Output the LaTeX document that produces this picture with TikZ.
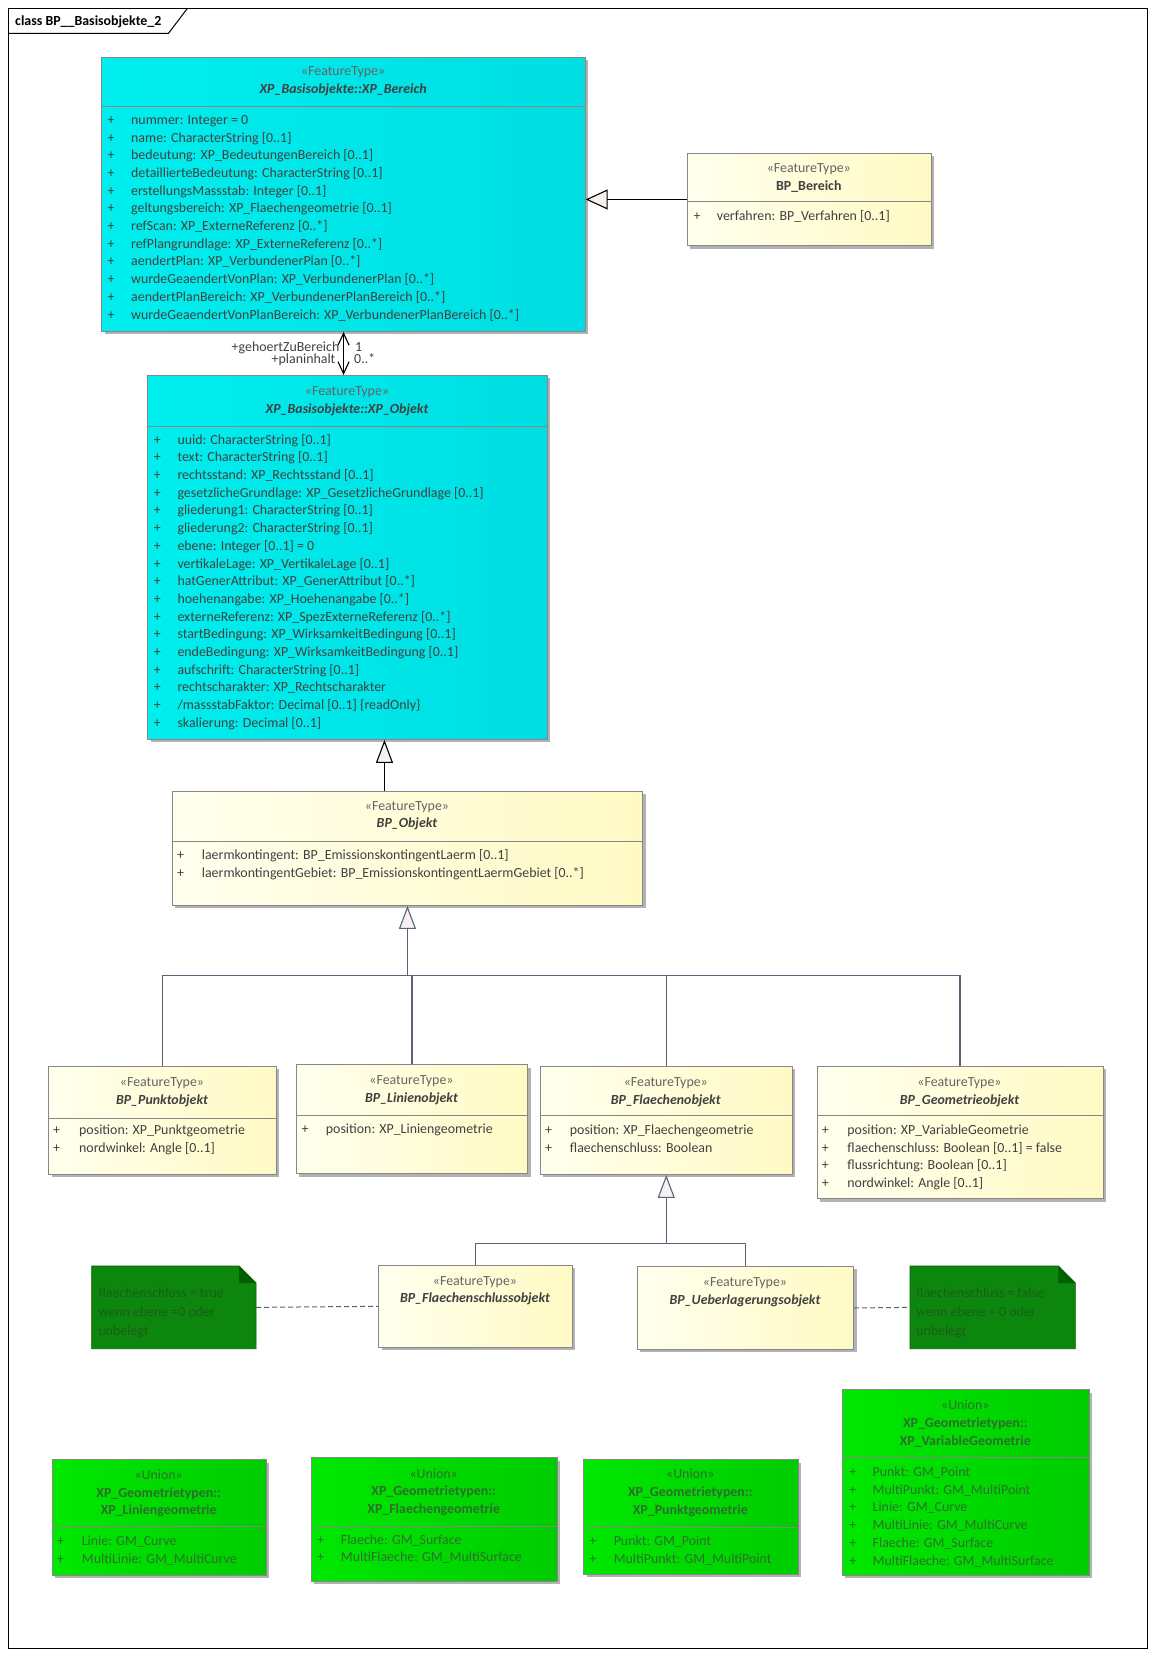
\documentclass[tikz,border=0pt]{standalone}
\usepackage{fontspec}
\setmainfont{Carlito}
\usetikzlibrary{arrows.meta,shadows,positioning,calc}

\definecolor{cyanL}{RGB}{0,238,238}
\definecolor{cyanR}{RGB}{0,222,226}
\definecolor{yelL}{RGB}{255,255,238}
\definecolor{yelR}{RGB}{255,250,196}
\definecolor{grnL}{RGB}{0,232,0}
\definecolor{grnR}{RGB}{0,204,0}
\definecolor{notegrn}{RGB}{12,134,12}
\definecolor{notefold}{RGB}{0,96,0}
\definecolor{notetxt}{RGB}{25,95,25}
\definecolor{boxline}{RGB}{135,135,135}
\definecolor{txtdark}{RGB}{64,64,64}
\definecolor{txtlight}{RGB}{100,100,100}
\definecolor{uniontxt}{RGB}{45,110,45}
\definecolor{genblue}{RGB}{88,98,120}
\definecolor{tipfill}{RGB}{248,240,238}

\begin{document}
\begin{tikzpicture}[x=1pt,y=-1pt,
font=\fontsize{13.9}{17.7}\selectfont,
classbox/.style={draw=boxline,line width=0.9pt,anchor=north west,inner sep=0pt,
  drop shadow={shadow xshift=3pt,shadow yshift=-3pt,opacity=0.3,fill=black}},
cyanbox/.style={classbox,left color=cyanL,right color=cyanR},
yelbox/.style={classbox,left color=yelL,right color=yelR},
unionbox/.style={classbox,left color=grnL,right color=grnR},
notebox/.style={anchor=north west,inner sep=0pt},
sepline/.style={draw=boxline,line width=0.9pt},
head/.style={align=center,inner sep=0pt,text=txtdark},
attr/.style={align=left,inner sep=0pt,anchor=base west,text=txtdark},
plus/.style={align=center,inner sep=0pt,anchor=base,text=txtdark},
utxt/.style={text=uniontxt},
notetext/.style={align=left,inner sep=0pt,anchor=base west,text=notetxt,
  font=\fontsize{13.9}{18.7}\selectfont},
role/.style={inner sep=0pt,text=txtdark},
assoc/.style={draw=black,line width=1.1pt,
  {Straight Barb[length=12pt,width=11pt]}-{Straight Barb[length=12pt,width=11pt]}},
genbig/.style={draw=black,line width=1.1pt,-{Triangle[length=22pt,width=20pt,fill=tipfill]}},
gensmall/.style={draw=black,line width=1.1pt,-{Triangle[length=23pt,width=17pt,fill=tipfill]}},
genline/.style={draw=genblue,line width=1.1pt},
gentip/.style={genline,-{Triangle[length=23pt,width=17pt,fill=tipfill]}},
notelink/.style={draw=genblue,line width=1pt,dash pattern=on 5pt off 3pt}]

\useasboundingbox (0,0) rectangle (1154,1655);

% frame
\node[draw,line width=1pt,anchor=north west,inner sep=0pt,
  minimum width=1138.2pt,minimum height=1639.6pt] (frame) at (8.4,8.4) {};
\draw[line width=1pt] ([yshift=-25pt]frame.north west) -- ++(160,0) -- ([xshift=179pt]frame.north west);
\node[anchor=base west,inner sep=0pt,font=\fontsize{13.9}{17.7}\selectfont\bfseries] (title) at (15,25.5) {class BP\_\_Basisobjekte\_2};

% XP_Bereich  (attribute nodes sit on the baseline of their last line)
\node[cyanbox,minimum width=483.4pt,minimum height=274pt] (bereich) at (101.4,57) {};
\draw[sepline] (bereich.west |- 0,106.7) -- (bereich.east |- 0,106.7);
\node[head] (bereich-h) at (343.1,81.4) {{\color{txtlight}«FeatureType»}\\{\bfseries\itshape XP\_Basisobjekte::XP\_Bereich}};
\node[plus] (bereich-p) at (111,319) {+\\+\\+\\+\\+\\+\\+\\+\\+\\+\\+\\+};
\node[attr] (bereich-a) at (131,319) {nummer: Integer = 0\\
name: CharacterString [0..1]\\
bedeutung: XP\_BedeutungenBereich [0..1]\\
detaillierteBedeutung: CharacterString [0..1]\\
erstellungsMassstab: Integer [0..1]\\
geltungsbereich: XP\_Flaechengeometrie [0..1]\\
refScan: XP\_ExterneReferenz [0..*]\\
refPlangrundlage: XP\_ExterneReferenz [0..*]\\
aendertPlan: XP\_VerbundenerPlan [0..*]\\
wurdeGeaendertVonPlan: XP\_VerbundenerPlan [0..*]\\
aendertPlanBereich: XP\_VerbundenerPlanBereich [0..*]\\
wurdeGeaendertVonPlanBereich: XP\_VerbundenerPlanBereich [0..*]};

% BP_Bereich
\node[yelbox,minimum width=244.3pt,minimum height=92.6pt] (bpbereich) at (686.7,152.7) {};
\draw[sepline] (bpbereich.west |- 0,201.7) -- (bpbereich.east |- 0,201.7);
\node[head] (bpbereich-h) at (808.8,178.2) {{\color{txtlight}«FeatureType»}\\{\bfseries BP\_Bereich}};
\node[plus] (bpbereich-p) at (697,220) {+};
\node[attr] (bpbereich-a) at (716.7,220) {verfahren: BP\_Verfahren [0..1]};

% XP_Objekt
\node[cyanbox,minimum width=399.4pt,minimum height=364pt] (objekt) at (147.3,375) {};
\draw[sepline] (objekt.west |- 0,426) -- (objekt.east |- 0,426);
\node[head] (objekt-h) at (347,401) {{\color{txtlight}«FeatureType»}\\{\bfseries\itshape XP\_Basisobjekte::XP\_Objekt}};
\node[plus] (objekt-p) at (157.3,727.3) {+\\+\\+\\+\\+\\+\\+\\+\\+\\+\\+\\+\\+\\+\\+\\+\\+};
\node[attr] (objekt-a) at (177.3,727.3) {uuid: CharacterString [0..1]\\
text: CharacterString [0..1]\\
rechtsstand: XP\_Rechtsstand [0..1]\\
gesetzlicheGrundlage: XP\_GesetzlicheGrundlage [0..1]\\
gliederung1: CharacterString [0..1]\\
gliederung2: CharacterString [0..1]\\
ebene: Integer [0..1] = 0\\
vertikaleLage: XP\_VertikaleLage [0..1]\\
hatGenerAttribut: XP\_GenerAttribut [0..*]\\
hoehenangabe: XP\_Hoehenangabe [0..*]\\
externeReferenz: XP\_SpezExterneReferenz [0..*]\\
startBedingung: XP\_WirksamkeitBedingung [0..1]\\
endeBedingung: XP\_WirksamkeitBedingung [0..1]\\
aufschrift: CharacterString [0..1]\\
rechtscharakter: XP\_Rechtscharakter\\
/massstabFaktor: Decimal [0..1] \{readOnly\}\\
skalierung: Decimal [0..1]};

% BP_Objekt
\node[yelbox,minimum width=470.6pt,minimum height=114.3pt] (bpobjekt) at (171.7,790.7) {};
\draw[sepline] (bpobjekt.west |- 0,841) -- (bpobjekt.east |- 0,841);
\node[head] (bpobjekt-h) at (407,815.8) {{\color{txtlight}«FeatureType»}\\{\bfseries\itshape BP\_Objekt}};
\node[plus] (bpobjekt-p) at (180.7,877) {+\\+};
\node[attr] (bpobjekt-a) at (201.7,877) {laermkontingent: BP\_EmissionskontingentLaerm [0..1]\\
laermkontingentGebiet: BP\_EmissionskontingentLaermGebiet [0..*]};

% subclasses
\node[yelbox,minimum width=227.4pt,minimum height=108pt] (punkt) at (48.3,1066) {};
\draw[sepline] (punkt.west |- 0,1118.3) -- (punkt.east |- 0,1118.3);
\node[head] (punkt-h) at (162,1092.2) {{\color{txtlight}«FeatureType»}\\{\bfseries\itshape BP\_Punktobjekt}};
\node[plus] (punkt-p) at (56.7,1152) {+\\+};
\node[attr] (punkt-a) at (79,1152) {position: XP\_Punktgeometrie\\nordwinkel: Angle [0..1]};

\node[yelbox,minimum width=231.6pt,minimum height=109pt] (linien) at (295.7,1064.3) {};
\draw[sepline] (linien.west |- 0,1115) -- (linien.east |- 0,1115);
\node[head] (linien-h) at (411.5,1090.3) {{\color{txtlight}«FeatureType»}\\{\bfseries\itshape BP\_Linienobjekt}};
\node[plus] (linien-p) at (305,1133) {+};
\node[attr] (linien-a) at (325.7,1133) {position: XP\_Liniengeometrie};

\node[yelbox,minimum width=251.8pt,minimum height=108pt] (flaechen) at (539.9,1066) {};
\draw[sepline] (flaechen.west |- 0,1115.7) -- (flaechen.east |- 0,1115.7);
\node[head] (flaechen-h) at (665.8,1092) {{\color{txtlight}«FeatureType»}\\{\bfseries\itshape BP\_Flaechenobjekt}};
\node[plus] (flaechen-p) at (548.7,1152.4) {+\\+};
\node[attr] (flaechen-a) at (569.7,1152.4) {position: XP\_Flaechengeometrie\\flaechenschluss: Boolean};

\node[yelbox,minimum width=285.9pt,minimum height=132.3pt] (geometrie) at (816.6,1066) {};
\draw[sepline] (geometrie.west |- 0,1115.7) -- (geometrie.east |- 0,1115.7);
\node[head] (geometrie-h) at (959.5,1092) {{\color{txtlight}«FeatureType»}\\{\bfseries\itshape BP\_Geometrieobjekt}};
\node[plus] (geometrie-p) at (825.4,1187.6) {+\\+\\+\\+};
\node[attr] (geometrie-a) at (847.2,1187.6) {position: XP\_VariableGeometrie\\
flaechenschluss: Boolean [0..1] = false\\
flussrichtung: Boolean [0..1]\\
nordwinkel: Angle [0..1]};

% Flaechenobjekt subclasses
\node[yelbox,minimum width=193.4pt,minimum height=81.7pt] (schluss) at (378.3,1265) {};
\node[head] (schluss-h) at (475,1290.8) {{\color{txtlight}«FeatureType»}\\{\bfseries\itshape BP\_Flaechenschlussobjekt}};
\node[yelbox,minimum width=216.6pt,minimum height=83pt] (ueber) at (636.7,1266) {};
\node[head] (ueber-h) at (745,1292.2) {{\color{txtlight}«FeatureType»}\\{\bfseries\itshape BP\_Ueberlagerungsobjekt}};

% notes
\node[notebox,minimum width=164pt,minimum height=82.3pt] (note1) at (91.7,1266) {};
\filldraw[fill=notegrn,draw=notefold,line width=0.6pt] (note1.south west) -- (note1.north west) -- ([xshift=-17pt]note1.north east)
  -- ([yshift=-17pt]note1.north east) -- (note1.south east) -- cycle;
\fill[notefold] ([xshift=-17pt]note1.north east) -- ([xshift=-17pt,yshift=-17pt]note1.north east) -- ([yshift=-17pt]note1.north east) -- cycle;
\node[notetext] (note1-t) at (98.3,1335) {flaechenschluss = true\\wenn ebene =0 oder\\unbelegt};

\node[notebox,minimum width=165pt,minimum height=82.3pt] (note2) at (910,1266) {};
\filldraw[fill=notegrn,draw=notefold,line width=0.6pt] (note2.south west) -- (note2.north west) -- ([xshift=-17pt]note2.north east)
  -- ([yshift=-17pt]note2.north east) -- (note2.south east) -- cycle;
\fill[notefold] ([xshift=-17pt]note2.north east) -- ([xshift=-17pt,yshift=-17pt]note2.north east) -- ([yshift=-17pt]note2.north east) -- cycle;
\node[notetext] (note2-t) at (916,1335) {flaechenschluss = false\\wenn ebene = 0 oder\\unbelegt};

% unions
\node[unionbox,minimum width=214pt,minimum height=115.7pt] (lgeo) at (51.7,1459.3) {};
\draw[sepline] (lgeo.west |- 0,1526.7) -- (lgeo.east |- 0,1526.7);
\node[head,utxt] (lgeo-h) at (158.7,1493.4) {«Union»\\{\bfseries XP\_Geometrietypen::}\\{\bfseries XP\_Liniengeometrie}};
\node[plus,utxt] (lgeo-p) at (60.7,1563) {+\\+};
\node[attr,utxt] (lgeo-a) at (81.7,1563) {Linie: GM\_Curve\\MultiLinie: GM\_MultiCurve};

\node[unionbox,minimum width=246pt,minimum height=123.7pt] (fgeo) at (310.7,1457.3) {};
\draw[sepline] (fgeo.west |- 0,1526.7) -- (fgeo.east |- 0,1526.7);
\node[head,utxt] (fgeo-h) at (433.7,1492.2) {«Union»\\{\bfseries XP\_Geometrietypen::}\\{\bfseries XP\_Flaechengeometrie}};
\node[plus,utxt] (fgeo-p) at (320.7,1561.7) {+\\+};
\node[attr,utxt] (fgeo-a) at (340.7,1561.7) {Flaeche: GM\_Surface\\MultiFlaeche: GM\_MultiSurface};

\node[unionbox,minimum width=214.3pt,minimum height=114.7pt] (pgeo) at (583.2,1459.3) {};
\draw[sepline] (pgeo.west |- 0,1527.3) -- (pgeo.east |- 0,1527.3);
\node[head,utxt] (pgeo-h) at (690.3,1493) {«Union»\\{\bfseries XP\_Geometrietypen::}\\{\bfseries XP\_Punktgeometrie}};
\node[plus,utxt] (pgeo-p) at (592.9,1563) {+\\+};
\node[attr,utxt] (pgeo-a) at (613.6,1563) {Punkt: GM\_Point\\MultiPunkt: GM\_MultiPoint};

\node[unionbox,minimum width=246.6pt,minimum height=185.7pt] (vgeo) at (842,1389.3) {};
\draw[sepline] (vgeo.west |- 0,1457.3) -- (vgeo.east |- 0,1457.3);
\node[head,utxt] (vgeo-h) at (965.3,1423.7) {«Union»\\{\bfseries XP\_Geometrietypen::}\\{\bfseries XP\_VariableGeometrie}};
\node[plus,utxt] (vgeo-p) at (852.9,1565) {+\\+\\+\\+\\+\\+};
\node[attr,utxt] (vgeo-a) at (872.5,1565) {Punkt: GM\_Point\\
MultiPunkt: GM\_MultiPoint\\
Linie: GM\_Curve\\
MultiLinie: GM\_MultiCurve\\
Flaeche: GM\_Surface\\
MultiFlaeche: GM\_MultiSurface};

% connectors
\draw[assoc] (bereich.south) -- (bereich.south |- objekt.north);
\node[role,anchor=base east] (role1) at (339.5,351) {+gehoertZuBereich};
\node[role,anchor=base east] (role2) at (335.6,363.5) {+planinhalt};
\node[role,anchor=base west] (mult1) at (355,351) {1};
\node[role,anchor=base west] (mult2) at (354,363.5) {0..*};

\draw[genbig] (bpbereich.west) -- (bpbereich.west -| bereich.east);
\draw[gensmall] ([xshift=-23pt]bpobjekt.north) -- ([xshift=-23pt]bpobjekt.north |- objekt.south);

\coordinate (busA) at ([yshift=-69.3pt]bpobjekt.south);
\draw[gentip] (busA) -- (bpobjekt.south);
\draw[genline] (punkt.north) |- (busA) -| (geometrie.north);
\draw[genline] (linien.north) |- (busA);
\draw[genline] (flaechen.north) |- (busA);

\coordinate (busB) at ([yshift=-68.7pt]flaechen.south);
\draw[gentip] (busB) -- (flaechen.south);
\draw[genline] (schluss.north) |- (busB) -| (ueber.north);

\draw[notelink] (note1.east) -- (schluss.west);
\draw[notelink] (ueber.east) -- (note2.west);
\end{tikzpicture}
\end{document}
